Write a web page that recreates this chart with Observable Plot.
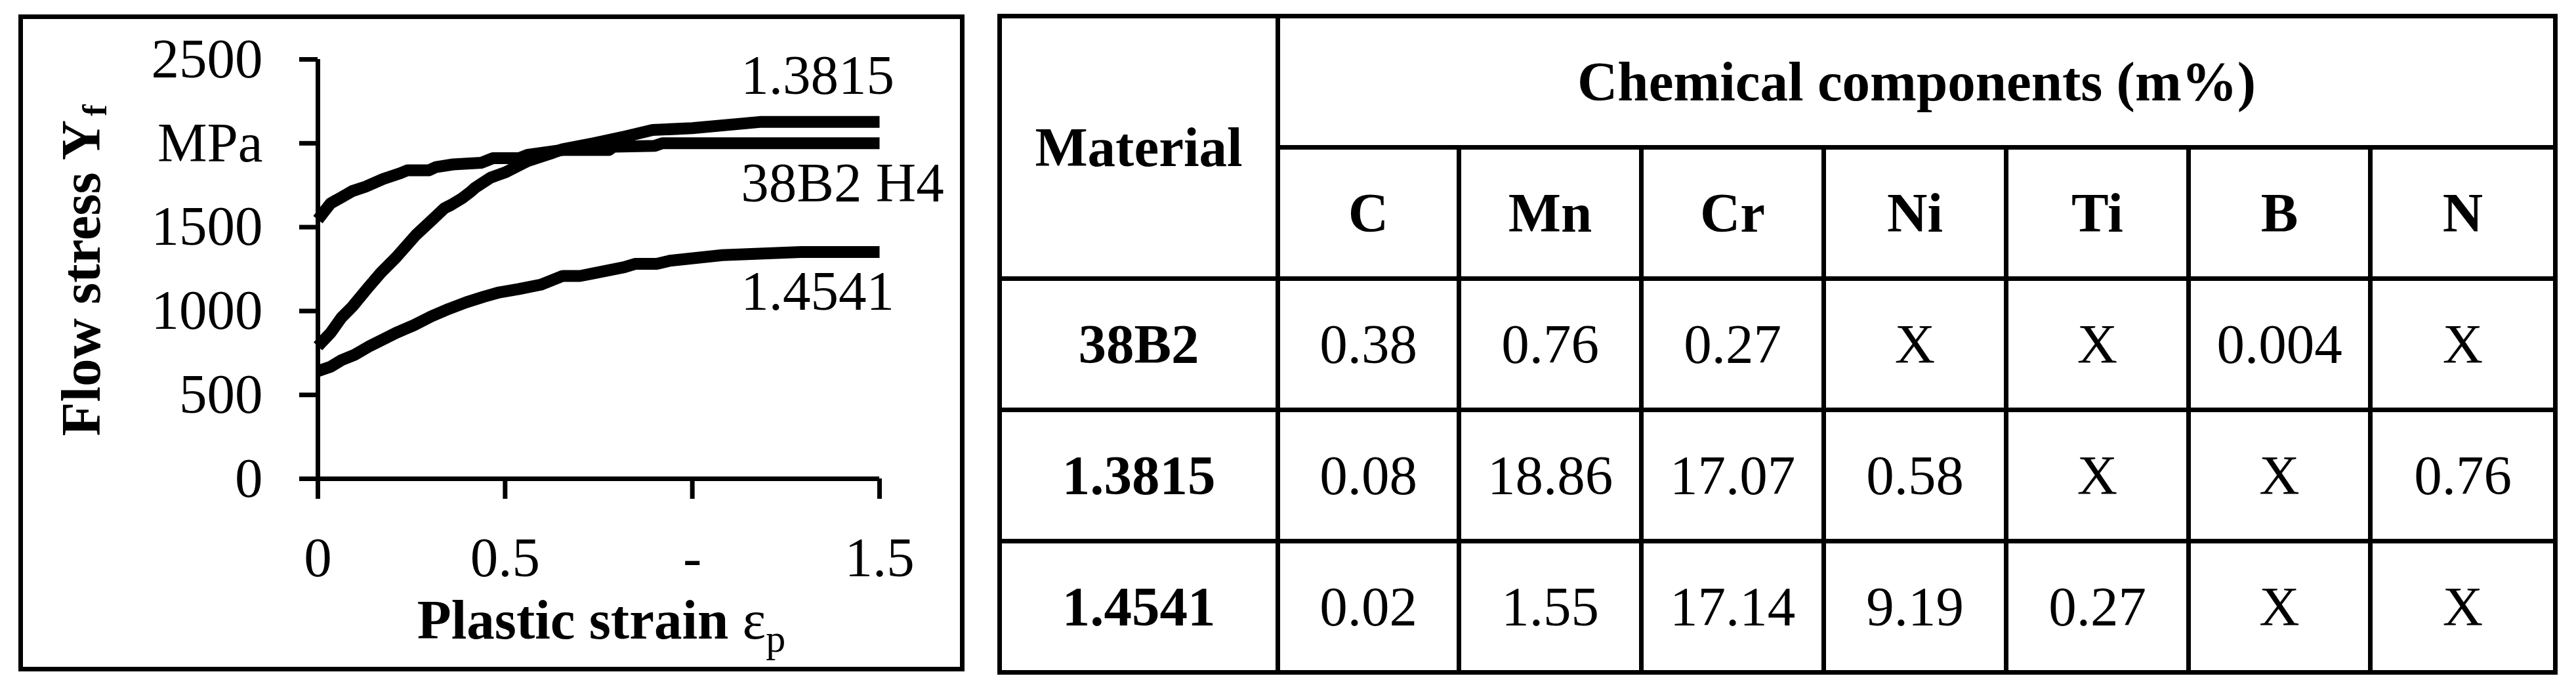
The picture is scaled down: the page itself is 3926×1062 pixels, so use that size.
<!DOCTYPE html>
<html>
<head>
<meta charset="utf-8">
<script src="https://cdn.jsdelivr.net/npm/d3@7"></script>
<script src="https://cdn.jsdelivr.net/npm/@observablehq/plot@0.6"></script>
<style>
  html, body { margin: 0; padding: 0; background: #fff; }
  body { width: 3926px; height: 1062px; position: relative; overflow: hidden;
         font-family: "Liberation Serif", "Times New Roman", serif; color: #000; }
  #panel { position: absolute; left: 28px; top: 22px; width: 1442px; height: 1001px;
           border: 7px solid #000; box-sizing: border-box; }
  #chart { position: absolute; left: 0; top: 0; width: 1500px; height: 1062px; }
  #tbl { position: absolute; left: 1520px; top: 21px; width: 2371px; border-collapse: collapse;
         table-layout: fixed; font-size: 85px; font-family: "Liberation Serif", "Times New Roman", serif; }
  #tbl td, #tbl th { border: 7px solid #000; text-align: center; vertical-align: middle;
                     padding: 0; line-height: 1; overflow: hidden; white-space: nowrap; }
  #tbl th { font-weight: bold; }
  #tbl td { font-weight: normal; }
  #tbl tr { height: 200px; }
</style>
</head>
<body>
<div id="panel"></div>
<div id="chart"></div>
<table id="tbl"></table>
<script>
// ---------- chart data ----------
const strain_38B2 = [0, 0.034, 0.063, 0.092, 0.127, 0.174, 0.221, 0.239, 0.297, 0.315, 0.361, 0.437, 0.467, 0.537, 0.56, 0.62, 0.654, 0.777, 0.79, 0.90, 0.92, 1.5];
const stress_38B2 = [1545, 1642, 1678, 1715, 1741, 1787, 1822, 1839, 1839, 1858, 1874, 1884, 1911, 1911, 1931, 1950, 1960, 1960, 1980, 1985, 2000, 2000];

const strain_13815 = [0, 0.034, 0.063, 0.092, 0.133, 0.168, 0.209, 0.262, 0.303, 0.338, 0.356, 0.385, 0.408, 0.42, 0.461, 0.502, 0.56, 0.619, 0.654, 0.736, 0.82, 0.894, 1.0, 1.18, 1.5];
const stress_13815 = [790, 870, 961, 1026, 1137, 1228, 1320, 1454, 1539, 1613, 1633, 1672, 1711, 1735, 1795, 1828, 1894, 1937, 1965, 2000, 2040, 2079, 2090, 2127, 2127];

const strain_14541 = [0, 0.034, 0.063, 0.098, 0.139, 0.168, 0.209, 0.256, 0.303, 0.35, 0.396, 0.443, 0.484, 0.537, 0.595, 0.654, 0.70, 0.73, 0.818, 0.847, 0.905, 0.94, 1.08, 1.29, 1.5];
const stress_14541 = [642, 668, 707, 739, 792, 824, 870, 915, 968, 1013, 1052, 1085, 1111, 1131, 1157, 1209, 1209, 1222, 1261, 1281, 1281, 1300, 1333, 1352, 1352];

const seriesNames = ["38B2 H4", "1.3815", "1.4541"];
const labelStrain = [1.13, 1.13, 1.13];
const labelStress = [1760, 2402, 1114];

const yTicks = [0, 500, 1000, 1500, 2000, 2500];
const yTickLabels = ["0", "500", "1000", "1500", "MPa", "2500"];
const xTicks = [0, 0.5, 1, 1.5];
const xTickLabels = ["0", "0.5", "-", "1.5"];

const yTitle = "Flow stress Y";
const yTitleSub = "f";
const xTitleMain = "Plastic strain ";
const xTitleSymbol = "ε";
const xTitleSub = "p";

// ---------- table data ----------
const materialHeader = "Material";
const componentsHeader = "Chemical components (m%)";
const elements = ["C", "Mn", "Cr", "Ni", "Ti", "B", "N"];
const materials = ["38B2", "1.3815", "1.4541"];
const comp_38B2 = ["0.38", "0.76", "0.27", "X", "X", "0.004", "X"];
const comp_13815 = ["0.08", "18.86", "17.07", "0.58", "X", "X", "0.76"];
const comp_14541 = ["0.02", "1.55", "17.14", "9.19", "0.27", "X", "X"];

// ---------- build chart ----------
const seriesStrain = [strain_38B2, strain_13815, strain_14541];
const seriesStress = [stress_38B2, stress_13815, stress_14541];
const points = seriesNames.flatMap((name, k) =>
  seriesStrain[k].map((e, i) => ({material: name, strain: e, stress: seriesStress[k][i]})));
const lineLabels = seriesNames.map((name, k) => ({label: name, strain: labelStrain[k], stress: labelStress[k]}));

const chart = Plot.plot({
  width: 1500,
  height: 1062,
  marginLeft: 484,
  marginRight: 160,
  marginTop: 90,
  marginBottom: 333,
  style: {fontFamily: "'Liberation Serif', 'Times New Roman', serif", fontSize: "85px", color: "#000", background: "transparent", overflow: "visible"},
  x: {domain: [0, 1.5]},
  y: {domain: [0, 2500]},
  marks: [
    Plot.axisY({ticks: yTicks, tickFormat: d => yTickLabels[yTicks.indexOf(d)], tickSize: 28, tickPadding: 56, strokeWidth: 7, label: null, fontSize: 85}),
    Plot.axisX({ticks: xTicks, tickFormat: d => xTickLabels[xTicks.indexOf(d)], tickSize: 31, tickPadding: 57, strokeWidth: 7, label: null, fontSize: 85}),
    Plot.ruleX([0], {strokeWidth: 7}),
    Plot.ruleY([0], {strokeWidth: 7}),
    Plot.line(points, {x: "strain", y: "stress", z: "material", stroke: "#000", strokeWidth: 18, strokeLinejoin: "round", strokeLinecap: "butt"}),
    Plot.text(lineLabels, {x: "strain", y: "stress", text: "label", textAnchor: "start", lineAnchor: "middle", fontSize: 85}),
    Plot.text([yTitle], {frameAnchor: "left", rotate: -90, dx: -360, dy: 2, textAnchor: "middle", lineAnchor: "middle", fontWeight: "bold", fontSize: 85}),
    Plot.text([xTitleMain], {frameAnchor: "bottom", dx: 4, dy: 216, textAnchor: "middle", lineAnchor: "middle", fontWeight: "bold", fontSize: 85})
  ]
});
document.getElementById("chart").appendChild(chart);

// subscripts and symbol
d3.select(chart).selectAll("text").each(function() {
  const t = d3.select(this);
  if (t.text() === yTitle) {
    t.append("tspan").attr("font-size", "52px").attr("dx", "6").attr("dy", "10").text(yTitleSub);
  } else if (t.text() === xTitleMain) {
    t.append("tspan").attr("font-weight", "normal").text(xTitleSymbol);
    t.append("tspan").attr("font-size", "60px").attr("font-weight", "normal").attr("dy", "20").text(xTitleSub);
  }
});

// ---------- build table ----------
const tbl = d3.select("#tbl");
const colWidths = [424, 276, 278, 278, 278, 278, 277, 282];
tbl.append("colgroup").selectAll("col").data(colWidths).join("col").style("width", d => d + "px");
const r1 = tbl.append("tr");
r1.append("th").attr("rowspan", 2).text(materialHeader);
r1.append("th").attr("colspan", elements.length).text(componentsHeader);
const r2 = tbl.append("tr");
elements.forEach(e => r2.append("th").text(e));
const comps = [comp_38B2, comp_13815, comp_14541];
materials.forEach((m, k) => {
  const r = tbl.append("tr");
  r.append("th").text(m);
  comps[k].forEach(v => r.append("td").text(v));
});
</script>
</body>
</html>
